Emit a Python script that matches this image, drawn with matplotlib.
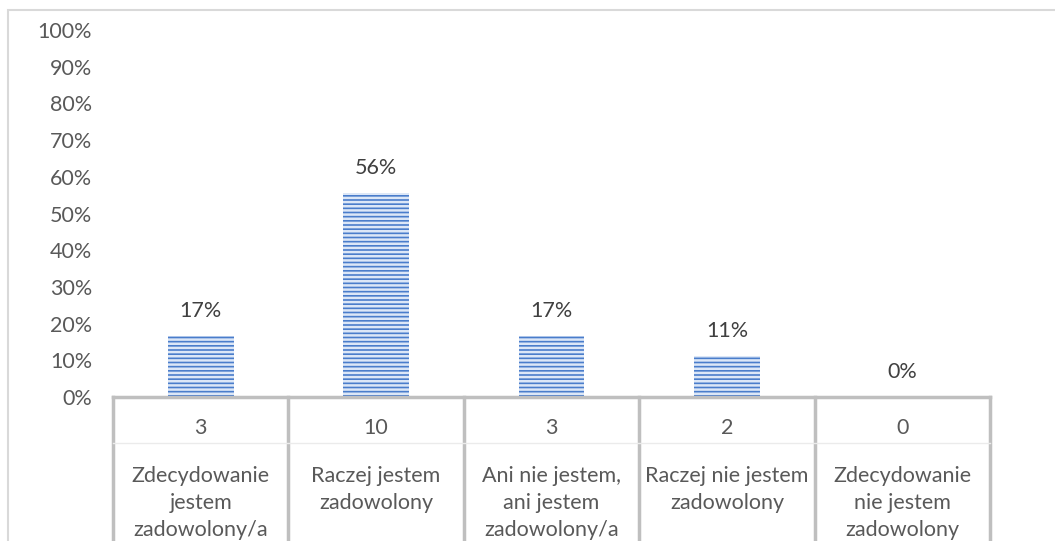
import matplotlib
matplotlib.use("Agg")
import matplotlib.pyplot as plt
from matplotlib.patches import Rectangle
from matplotlib.lines import Line2D
import numpy as np

# data
categories = ["Zdecydowanie\njestem\nzadowolony/a",
              "Raczej jestem\nzadowolony",
              "Ani nie jestem,\nani jestem\nzadowolony/a",
              "Raczej nie jestem\nzadowolony",
              "Zdecydowanie\nnie jestem\nzadowolony"]
counts = [3, 10, 3, 2, 0]
percent = [16.7, 55.6, 16.7, 11.1, 0.0]
yticks = [0, 10, 20, 30, 40, 50, 60, 70, 80, 90, 100]

plt.rcParams["font.family"] = ["Lato", "DejaVu Sans"]
plt.rcParams["hatch.linewidth"] = 1.8
txt = "#595959"
fs = 15.5

W, H = 1055, 541
fig = plt.figure(figsize=(W / 100, H / 100), dpi=100)
ax = fig.add_axes([113 / W, (H - 397) / H, (990 - 113) / W, (397 - 30) / H])

x = np.arange(len(categories))
ax.bar(x, percent, width=0.375, color="#4A7DCB", edgecolor="#DCE7F7",
       hatch="----", linewidth=0)
for xi, p in zip(x, percent):
    ax.text(xi, p + 6.8, "{:.0f}%".format(p), ha="center", va="center",
            fontsize=fs, color="#404040")

ax.set_xlim(-0.5, len(categories) - 0.5)
ax.set_ylim(0, 100)
ax.set_yticks(yticks)
ax.set_yticklabels(["{}%".format(t) for t in yticks], fontsize=fs, color=txt)
ax.tick_params(axis="y", length=0, pad=15)
ax.set_xticks([])
for s in ["top", "right", "left"]:
    ax.spines[s].set_visible(False)
ax.spines["bottom"].set_color("#BFBFBF")
ax.spines["bottom"].set_linewidth(2.5)

# table under the axis
tr = ax.get_xaxis_transform()
for b in np.arange(len(categories) + 1) - 0.5:
    ax.add_line(Line2D([b, b], [0, -0.6], transform=tr, color="#BFBFBF",
                       lw=2.5, clip_on=False))
row_y = -(443 - 397) / 367
ax.add_line(Line2D([-0.5, len(categories) - 0.5], [row_y, row_y], transform=tr,
                   color="#EBEBEB", lw=1, clip_on=False))
for xi, c, lab in zip(x, counts, categories):
    ax.text(xi, -(428 - 397) / 367, str(c), transform=tr, ha="center",
            va="center", fontsize=fs, color=txt)
    ax.text(xi, -(466 - 397) / 367, lab, transform=tr, ha="center",
            va="top", fontsize=fs, color=txt, linespacing=1.45)

# outer chart border
fig.patches.append(Rectangle((8 / W, -0.1), 1.2, (H - 10) / H + 0.1,
                             transform=fig.transFigure, fill=False,
                             edgecolor="#D9D9D9", lw=1.5))

fig.savefig("out.png", dpi=100)
